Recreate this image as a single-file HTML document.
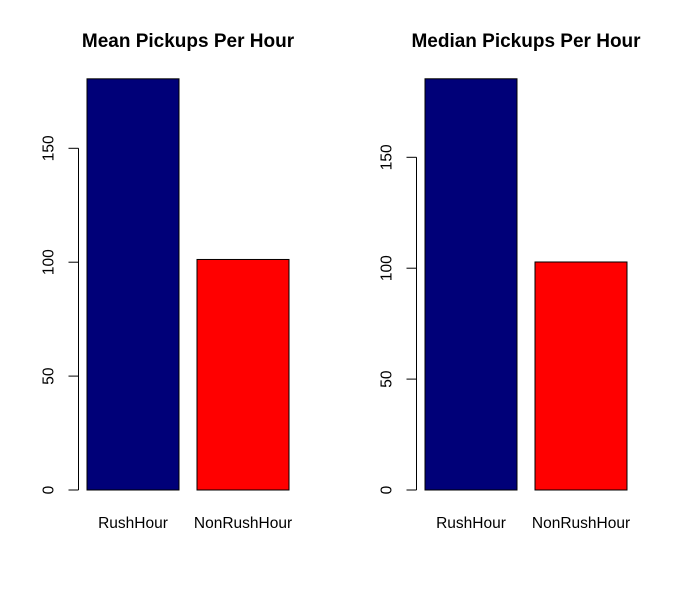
<!DOCTYPE html>
<html><head><meta charset="utf-8"><style>
body{margin:0;background:#fff}
svg{display:block;font-family:"Liberation Sans",Arial,sans-serif}
</style></head><body>
<svg id="c" width="676" height="592"></svg>
<script>
const categories = ["RushHour","NonRushHour"];
const meanValues = [180.5, 101.2];
const medianValues = [185.4, 102.8];
const tickValues = [0, 50, 100, 150];
const colors = ["#000078","#ff0000"];
const ns="http://www.w3.org/2000/svg";
const svg=document.getElementById('c');
function mk(t,a,p){const e=document.createElementNS(ns,t);for(const k in a)e.setAttribute(k,a[k]);(p||svg).appendChild(e);return e;}
function panel(name,title,vals,axisX,barX0,pxPerUnit,titleX){
  const g=mk('g',{});
  
  
  const y=v=>490-v*pxPerUnit;
  const t=mk('text',{x:titleX,y:47,'text-anchor':'middle','font-size':19,'font-weight':'bold'},g);t.textContent=title;
  
  
  const ax=mk('line',{x1:axisX,x2:axisX,y1:y(0),y2:y(150),stroke:'#000','stroke-width':1},g);
  
  
  tickValues.forEach(v=>{
    mk('line',{x1:axisX-10,x2:axisX,y1:y(v),y2:y(v),stroke:'#000'},g);
    const tx=mk('text',{x:0,y:0,'font-size':15.5,'text-anchor':'middle',transform:`translate(${axisX-25},${y(v)}) rotate(-90)`},g);
    tx.textContent=v;
    
    
  });
  vals.forEach((v,i)=>{
    const x=barX0+i*110;
    const r=mk('rect',{x:x,y:y(v),width:92,height:v*pxPerUnit,fill:colors[i],stroke:'#000','stroke-width':1},g);
    
    
    const l=mk('text',{x:x+46,y:528,'text-anchor':'middle','font-size':15.5},g);
    l.textContent=categories[i];
    
    
  });
}
panel('mean-panel','Mean Pickups Per Hour',meanValues,78.5,87,341.7/150,188);
panel('median-panel','Median Pickups Per Hour',medianValues,416.5,425,332.7/150,526);
</script>
</body></html>
